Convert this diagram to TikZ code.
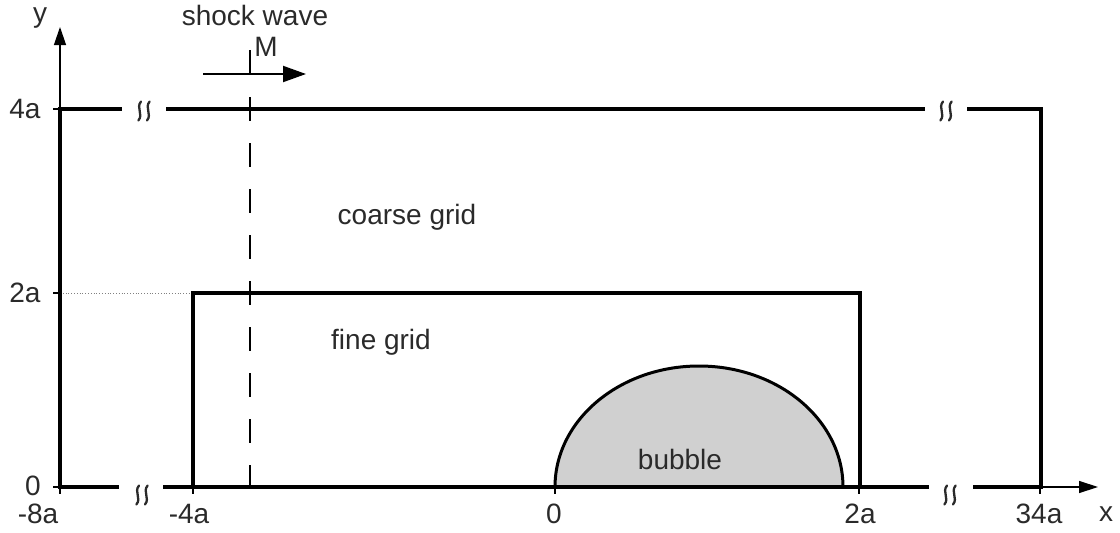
\documentclass[tikz,border=0pt]{standalone}
\usepackage{fontspec}
\setmainfont{Liberation Sans}
\usetikzlibrary{arrows.meta}
\definecolor{txt}{HTML}{2A2A2A}
\definecolor{bub}{HTML}{D0D0D0}
\tikzset{
  frame/.style={line width=3.6pt, line cap=rect},
  axis/.style={line width=1.3pt, black},
  lbl/.style={font=\fontsize{28}{31}\selectfont, text=txt, inner sep=0pt},
  tick/.style={line width=1.3pt},
  brk/.style={line width=2.3pt, txt, line cap=round},
  shock/.style={line width=2pt, dash pattern=on 24pt off 22pt},
}
\newcommand{\brkmark}[2]{%
  \foreach \dx in {-4.3,4.3}{
    \draw[brk] (#1+\dx+1.3,#2-9.5) .. controls (#1+\dx-4,#2-3) and (#1+\dx+4,#2+3) .. (#1+\dx-1.3,#2+9.5);
  }}
\begin{document}
\begin{tikzpicture}[x=1pt,y=-1pt]
\useasboundingbox (0,0) rectangle (1120,533);
% key coordinates
\coordinate (O) at (60,487);
\coordinate (TL) at (60,109);
\coordinate (TR) at (1041,109);
\coordinate (BR) at (1041,487);
\coordinate (yend) at (60,27);
\coordinate (xend) at (1098,487);
% bubble
\draw[fill=bub, line width=3pt] (555,487) arc[start angle=180, end angle=360, x radius=144, y radius=121] -- cycle;
% axes
\draw[axis, -{Triangle[length=18pt,width=12pt]}] (TL) -- (yend);
\draw[axis, -{Triangle[length=19pt,width=12pt]}] (BR) -- (xend);
% dotted line
\draw[gray, line width=0.8pt, dotted] (60,293) -- (193,293);
% outer frame
\draw[frame] (TL) -- (O);
\draw[frame] (TL) -- (120,109);
\draw[frame] (168,109) -- (923,109);
\draw[frame] (969,109) -- (TR) -- (BR);
\draw[frame] (O) -- (117,487);
\draw[frame] (165,487) -- (927,487);
\draw[frame] (975,487) -- (BR);
% inner frame (fine grid)
\draw[frame] (193,487) -- (193,293) -- (860,293) -- (860,487);
% break marks
\brkmark{144}{111}
\brkmark{946}{111}
\brkmark{142}{495}
\brkmark{950}{495}
% ticks
\foreach \yy in {109,293,487} \draw[tick] (53,\yy) -- (60,\yy);
\foreach \xx in {60,193,555,859,1040} \draw[tick] (\xx,487) -- (\xx,494);
% shock wave
\draw[shock] (250,97) -- (250,487);
\draw[line width=2pt] (250,50) -- (250,74);
\coordinate (sa) at (203,74);
\coordinate (sb) at (306,74);
\draw[line width=2pt, -{Triangle[length=23pt,width=16pt]}] (sa) -- (sb);
% labels
\node[lbl] (ylab) at (40,18) {y};
\node[lbl] (xlab) at (1106,514) {x};
\node[lbl] (l4a) at (25,109) {4a};
\node[lbl] (l2a) at (25,293) {2a};
\node[lbl] (l0y) at (33,486) {0};
\node[lbl] (lm8) at (38,514) {-8a};
\node[lbl] (lm4) at (189,514) {-4a};
\node[lbl] (l0x) at (554,514) {0};
\node[lbl] (lp2) at (860,514) {2a};
\node[lbl] (l34) at (1039,514) {34a};
\node[lbl] (sw) at (255,15) {shock wave};
\node[lbl] (M) at (266,47) {M};
\node[lbl] (cg) at (407,217) {coarse grid};
\node[lbl] (fg) at (381,342) {fine grid};
\node[lbl] (bb) at (680,459) {bubble};
\end{tikzpicture}
\end{document}
